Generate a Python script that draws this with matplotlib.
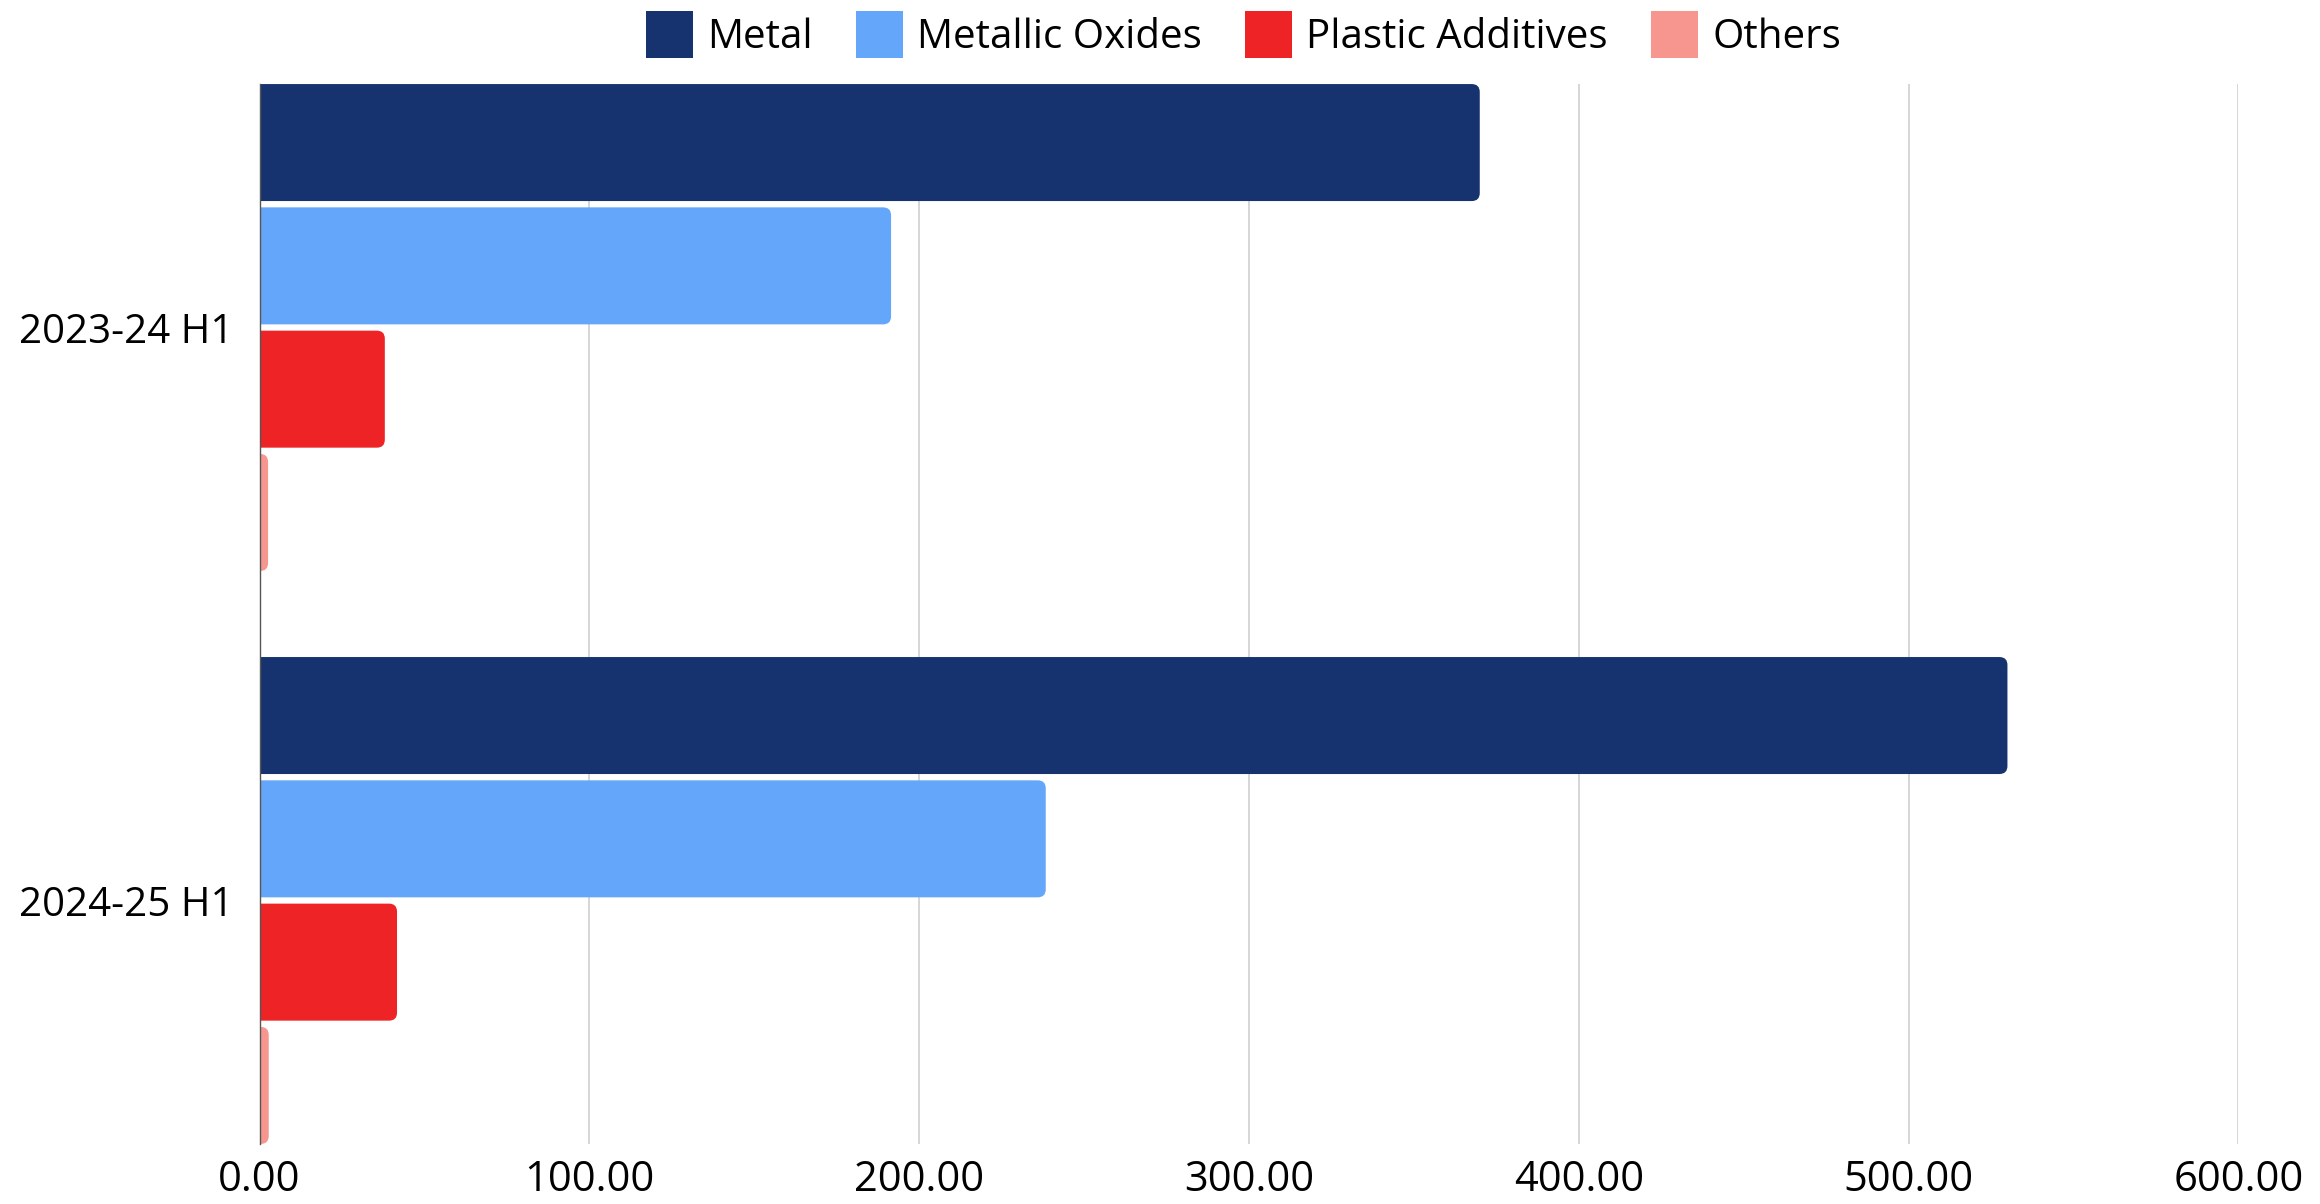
import matplotlib
matplotlib.use("Agg")
import matplotlib.pyplot as plt
from matplotlib.patches import FancyBboxPatch, Patch
import numpy as np

plt.rcParams['font.family'] = ['Open Sans', 'DejaVu Sans']

categories = ["2023-24 H1", "2024-25 H1"]
series_names = ["Metal", "Metallic Oxides", "Plastic Additives", "Others"]
metal = [370.0, 530.0]
metallic_oxides = [191.5, 238.4]
plastic_additives = [38.0, 41.7]
others = [2.6, 2.8]
colors = ["#17336F", "#64A6FA", "#EE2326", "#F6968F"]
xticks = [0, 100, 200, 300, 400, 500, 600]
xticklabels = ["0.00", "100.00", "200.00", "300.00", "400.00", "500.00", "600.00"]

series = [metal, metallic_oxides, plastic_additives, others]

W, H = 2320, 1204
fig = plt.figure(figsize=(W / 100, H / 100), dpi=100)
ax_left, ax_right = 259.5 / W, 2238.3 / W
ax_top, ax_bot = 84 / H, 1144 / H
ax = fig.add_axes([ax_left, 1 - ax_bot, ax_right - ax_left, ax_bot - ax_top])

pitch = 0.2152
bh = 0.2042
y = np.arange(len(categories))
offsets = [-1.5, -0.5, 0.5, 1.5]

ax.set_xlim(0, 600)
ax.set_ylim(1.425, -0.425)

r = 2.43
asp = 0.005745
for vals, off, c in zip(series, offsets, colors):
    bars = ax.barh(y + off * pitch, vals, height=bh, color=c, zorder=3)
    for rect in bars:
        x0, y0 = rect.get_x(), rect.get_y()
        w, h = rect.get_width(), rect.get_height()
        p = FancyBboxPatch((x0 - r, y0), w + r, h,
                           boxstyle=f"round,pad=0,rounding_size={r}",
                           mutation_aspect=asp, fc=c, ec='none', zorder=3,
                           clip_on=True)
        ax.add_patch(p)
        rect.set_visible(False)

ax.set_xticks(xticks)
ax.set_xticklabels(xticklabels)
ax.set_yticks(y)
ax.set_yticklabels(categories)
ax.tick_params(axis='x', length=0, labelsize=30, colors='black', pad=11)
ax.tick_params(axis='y', length=0, labelsize=29, colors='black', pad=19)

for s in ['top', 'right', 'bottom']:
    ax.spines[s].set_visible(False)
ax.spines['left'].set_color('#555555')
ax.spines['left'].set_linewidth(1.0)
ax.spines['left'].set_zorder(4)

ax.grid(axis='x', color='#CCCCCC', linewidth=1.1, zorder=0)
ax.grid(axis='y', visible=False)
ax.set_axisbelow(True)

handles = [Patch(facecolor=c, edgecolor='none', label=n) for n, c in zip(series_names, colors)]
fig.legend(handles=handles, loc='upper center', bbox_to_anchor=(0.536, 0.9975),
           ncol=4, frameon=False, fontsize=29, handlelength=1.166, handleheight=1.415,
           handletextpad=0.35, columnspacing=1.08, borderaxespad=0.1, borderpad=0.1)

fig.savefig("out.png", dpi=100, facecolor='white')
